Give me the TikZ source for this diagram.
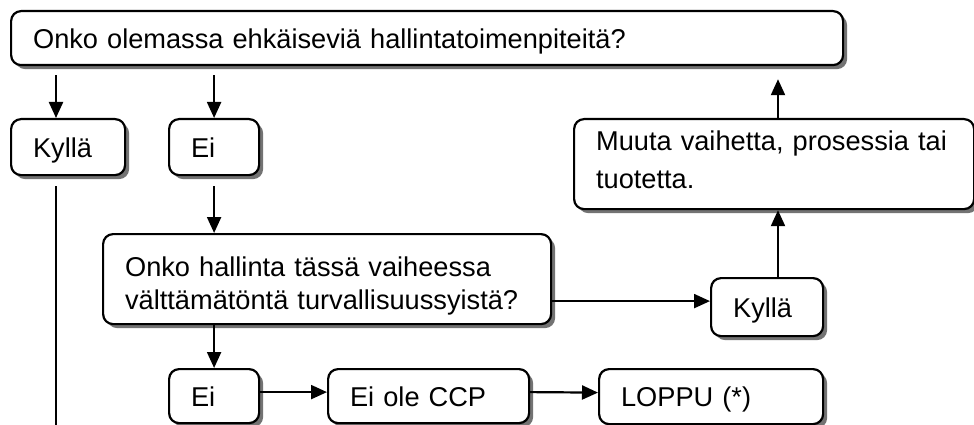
\documentclass[tikz,border=0pt]{standalone}
\usepackage{fontspec}
\setmainfont{Liberation Sans}
\usetikzlibrary{arrows.meta,shadows}
\begin{document}
\begin{tikzpicture}[x=1pt,y=-1pt,
  box/.style={draw, line width=2.2pt, rounded corners=10pt, fill=white,
    drop shadow={shadow xshift=4pt, shadow yshift=-4pt, fill=black!55, opacity=1},
    inner xsep=22pt, inner ysep=0pt, anchor=north west, align=left,
    font=\fontsize{27.2}{33}\selectfont},
  oneline/.style={text height=24pt, text depth=4pt},
  arr/.style={line width=2.2pt, -{Triangle[length=16pt,width=14pt]}},
  ln/.style={line width=2.2pt}]
\useasboundingbox (0,0) rectangle (974,425);

\node[box, oneline, text width=788pt, minimum height=54pt] (top) at (10,10)
  {Onko olemassa ehkäiseviä hallintatoimenpiteitä?};
\node[box, oneline, text width=70pt, minimum height=56pt] (kyl1) at (10,118) {Kyllä};
\node[box, oneline, text width=46pt, minimum height=56pt] (ei1) at (168,118) {Ei};
\node[box, text width=404pt, minimum height=90pt] (q2) at (102,233)
  {\rule{0pt}{33pt}Onko hallinta tässä vaiheessa\\välttämätöntä turvallisuussyistä?};
\node[box, text width=356pt, minimum height=90pt, font=\fontsize{27.2}{38}\selectfont] (muuta) at (573,118)
  {Muuta vaihetta, prosessia tai\\tuotetta.\rule[-8pt]{0pt}{8pt}};
\node[box, oneline, text width=68pt, minimum height=58pt] (kyl2) at (710,277) {Kyllä};
\node[box, oneline, text width=46pt, minimum height=54pt] (ei2) at (168,368) {Ei};
\node[box, oneline, text width=157pt, minimum height=54pt] (ccp) at (327,368) {Ei ole CCP};
\node[box, oneline, text width=180pt, minimum height=55pt] (loppu) at (598,368) {LOPPU (*)};

\coordinate (k1in) at ([xshift=46pt]kyl1.north west);
\coordinate (leftend) at (56,425);
\coordinate (k2in) at ([yshift=6pt]kyl2.west);
\coordinate (k2up) at ([xshift=68pt]kyl2.north west);

\draw[arr, shorten <=9pt] (top.south -| k1in) -- (k1in);
\draw[arr, shorten <=9pt] (top.south -| ei1.north) -- (ei1.north);
\draw[ln, shorten <=10pt] (kyl1.south -| leftend) -- (leftend);
\draw[arr, shorten <=10pt] (ei1.south) -- (q2.north -| ei1.south);
\draw[arr] (q2.east |- k2in) -- (k2in);
\draw[arr] (k2up) -- (muuta.south -| k2up);
\draw[arr, shorten >=13pt] (muuta.north -| k2up) -- (top.south -| k2up);
\draw[arr] (q2.south -| ei2.north) -- (ei2.north);
\draw[arr] ([yshift=4pt]ei2.east) -- ([yshift=4pt]ccp.west);
\draw[arr] ([yshift=4pt]ccp.east) -- ([yshift=4pt]loppu.west);
\end{tikzpicture}
\end{document}
